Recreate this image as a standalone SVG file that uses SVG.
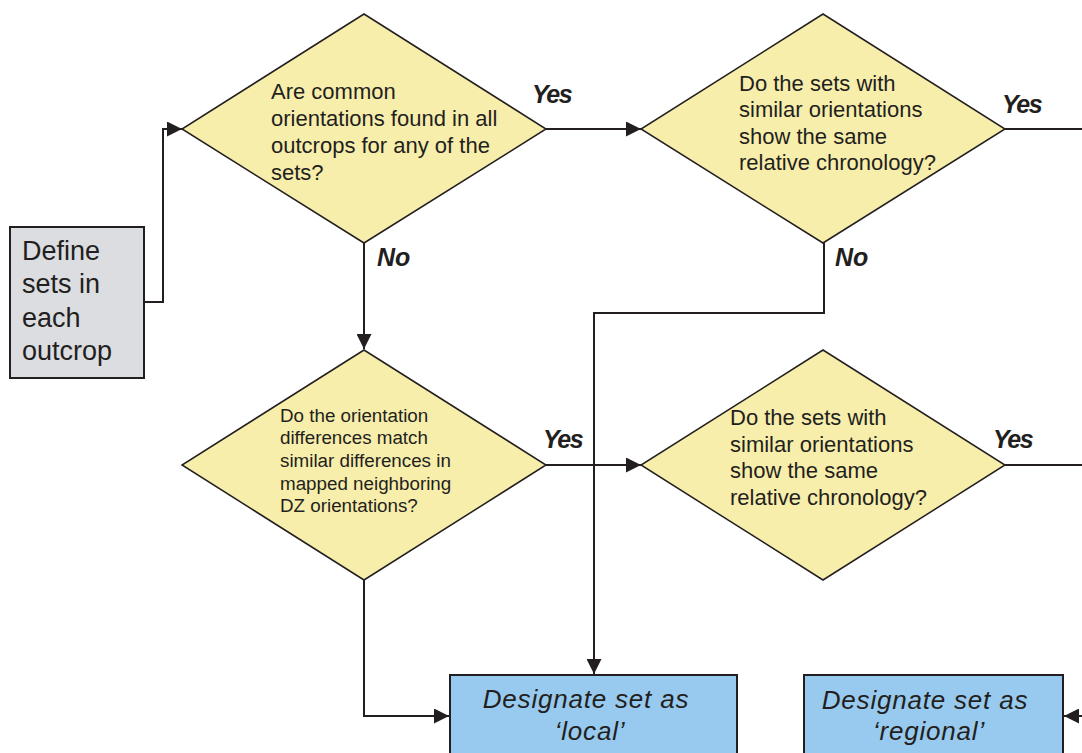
<svg xmlns="http://www.w3.org/2000/svg" width="1082" height="753" viewBox="0 0 1082 753">
<style>
.dia{fill:#f8eeab;stroke:#231f20;stroke-width:1.5}
.box{stroke:#231f20;stroke-width:2}
.t{font-family:"Liberation Sans",Arial,sans-serif;fill:#231f20}
.lbl{font-family:"Liberation Sans",Arial,sans-serif;font-weight:bold;font-style:italic;font-size:25px;fill:#231f20}
.conn{fill:none;stroke:#231f20;stroke-width:2}
</style>
<defs>
<marker id="ah" viewBox="0 0 10 10" refX="10" refY="5" markerWidth="17" markerHeight="15" markerUnits="userSpaceOnUse" orient="auto">
<path d="M0,0 L10,5 L0,10 Z" fill="#231f20"/>
</marker>
</defs>
<rect width="1082" height="753" fill="#ffffff"/>

<g id="connectors">
<polyline class="conn" points="144,302 163,302 163,129 182,129" marker-end="url(#ah)"/>
<line class="conn" x1="546" y1="129" x2="641" y2="129" marker-end="url(#ah)"/>
<line class="conn" x1="1005" y1="129" x2="1082" y2="129"/>
<line class="conn" x1="364" y1="243" x2="364" y2="349" marker-end="url(#ah)"/>
<polyline class="conn" points="824,243 824,313 594,313 594,674" marker-end="url(#ah)"/>
<line class="conn" x1="546" y1="465" x2="641" y2="465" marker-end="url(#ah)"/>
<line class="conn" x1="1005" y1="465" x2="1082" y2="465"/>
<polyline class="conn" points="364,580 364,716 449,716" marker-end="url(#ah)"/>
<line class="conn" x1="1082" y1="716" x2="1064" y2="716" marker-end="url(#ah)"/>
<text class="lbl" x="532" y="103" letter-spacing="-1.5">Yes</text>
<text class="lbl" x="377" y="266">No</text>
<text class="lbl" x="1002" y="113" letter-spacing="-1.5">Yes</text>
<text class="lbl" x="835" y="266">No</text>
<text class="lbl" x="543" y="448" letter-spacing="-1.5">Yes</text>
<text class="lbl" x="993" y="448" letter-spacing="-1.5">Yes</text>
</g>

<g id="define">
<rect class="box" x="10" y="227" width="134" height="151" fill="#dcdde0"/>
<text class="t" font-size="27" x="22">
<tspan x="22" y="260">Define</tspan>
<tspan x="22" y="293">sets in</tspan>
<tspan x="22" y="327">each</tspan>
<tspan x="22" y="360">outcrop</tspan>
</text>
</g>

<g id="q1">
<polygon class="dia" points="364,14 546,129 364,243 182,129"/>
<text class="t" font-size="22">
<tspan x="271" y="99">Are common</tspan>
<tspan x="271" y="126">orientations found in all</tspan>
<tspan x="271" y="153">outcrops for any of the</tspan>
<tspan x="271" y="180">sets?</tspan>
</text>
</g>

<g id="q2">
<polygon class="dia" points="823,14 1005,129 823,243 641,129"/>
<text class="t" font-size="22">
<tspan x="739" y="91">Do the sets with</tspan>
<tspan x="739" y="117">similar orientations</tspan>
<tspan x="739" y="144">show the same</tspan>
<tspan x="739" y="170">relative chronology?</tspan>
</text>
</g>

<g id="q3">
<polygon class="dia" points="364,350 546,465 364,580 182,465"/>
<text class="t" font-size="18.8">
<tspan x="280" y="422">Do the orientation</tspan>
<tspan x="280" y="444">differences match</tspan>
<tspan x="280" y="467">similar differences in</tspan>
<tspan x="280" y="490">mapped neighboring</tspan>
<tspan x="280" y="512">DZ orientations?</tspan>
</text>
</g>

<g id="q4">
<polygon class="dia" points="823,350 1005,465 823,580 641,465"/>
<text class="t" font-size="22">
<tspan x="730" y="425">Do the sets with</tspan>
<tspan x="730" y="452">similar orientations</tspan>
<tspan x="730" y="478">show the same</tspan>
<tspan x="730" y="505">relative chronology?</tspan>
</text>
</g>

<g id="local">
<rect class="box" x="450" y="675" width="287" height="100" fill="#97caee"/>
<text class="t" font-size="26" font-style="italic" text-anchor="middle" letter-spacing="0.8">
<tspan x="590" y="708">Designate set as</tspan>
<tspan x="590" y="740">‘local’</tspan>
</text>
</g>

<g id="regional">
<rect class="box" x="804" y="675" width="259" height="100" fill="#97caee"/>
<text class="t" font-size="26" font-style="italic" text-anchor="middle" letter-spacing="0.8">
<tspan x="929" y="709">Designate set as</tspan>
<tspan x="929" y="740">‘regional’</tspan>
</text>
</g>
</svg>
